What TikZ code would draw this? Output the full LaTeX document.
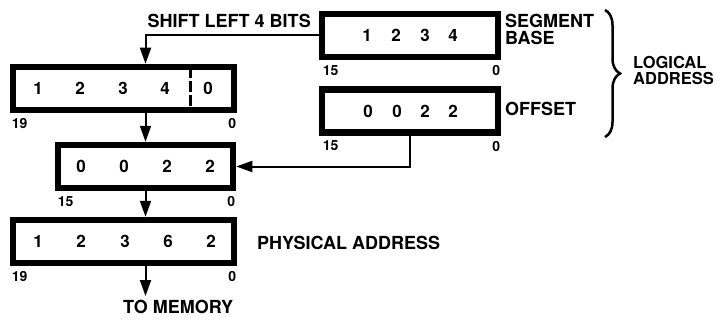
\documentclass[tikz,border=0pt]{standalone}
\usepackage{fontspec}
\setmainfont{TeX Gyre Heros}
\usetikzlibrary{arrows.meta,decorations.pathreplacing}
\tikzset{
  regbox/.style={draw, line width=6.5pt, inner sep=0pt, minimum height=43pt},
  digit/.style={font=\fontsize{17}{17}\selectfont\bfseries, inner sep=0pt},
  bitno/.style={font=\fontsize{14}{14}\selectfont\bfseries, inner sep=0pt},
  label/.style={font=\fontsize{18}{17}\selectfont\bfseries, align=left, inner sep=0pt},
  link/.style={line width=2pt, ->},
}
\begin{document}
\begin{tikzpicture}[x=1pt,y=-1pt,line join=miter,>={Triangle[length=16pt,width=11pt]}]
	\useasboundingbox (0,0) rectangle (726,321);
	%registres
	\node[regbox, minimum width=176pt] (segbox) at (410,35.5) {};
	\node[regbox, minimum width=176pt] (offbox) at (410,111) {};
	\node[regbox, minimum width=221pt] (shiftbox) at (123.5,88.5) {};
	\node[regbox, minimum width=175pt] (sumbox) at (145.5,166.5) {};
	\node[regbox, minimum width=221pt] (physbox) at (123.5,241.5) {};
	%chiffres
	\foreach \d/\x [count=\i] in {1/367,2/396,3/425,4/453}
		\node[digit] (seg\i) at (\x,35.5) {\d};
	\foreach \d/\x [count=\i] in {0/368,0/397,2/425,2/453}
		\node[digit] (off\i) at (\x,111) {\d};
	\foreach \d/\x [count=\i] in {1/38,2/80,3/123,4/165,0/208}
		\node[digit] (shift\i) at (\x,88.5) {\d};
	\foreach \d/\x [count=\i] in {0/81,0/124,2/167,2/210}
		\node[digit] (sum\i) at (\x,166.5) {\d};
	\foreach \d/\x [count=\i] in {1/38,2/81,3/125,6/168,2/211}
		\node[digit] (phys\i) at (\x,241.5) {\d};
	\draw[line width=3pt, dash pattern=on 11pt off 3pt] (190,67) -- (190,110);
	%numeros de bits
	\node[bitno, anchor=north west] (seghi) at ([xshift=4pt,yshift=-5pt]segbox.south west) {15};
	\node[bitno, anchor=north east] (seglo) at ([xshift=-1pt,yshift=-5pt]segbox.south east) {0};
	\node[bitno, anchor=north west] (offhi) at ([xshift=4pt,yshift=-5pt]offbox.south west) {15};
	\node[bitno, anchor=north east] (offlo) at ([xshift=-1pt,yshift=-5pt]offbox.south east) {0};
	\node[bitno, anchor=north west] (shifthi) at ([xshift=2pt,yshift=-5pt]shiftbox.south west) {19};
	\node[bitno, anchor=north east] (shiftlo) at ([xshift=-1pt,yshift=-5pt]shiftbox.south east) {0};
	\node[bitno, anchor=north west] (sumhi) at ([xshift=3pt,yshift=-5pt]sumbox.south west) {15};
	\node[bitno, anchor=north east] (sumlo) at ([xshift=-1pt,yshift=-5pt]sumbox.south east) {0};
	\node[bitno, anchor=north west] (physhi) at ([xshift=2pt,yshift=-5pt]physbox.south west) {19};
	\node[bitno, anchor=north east] (physlo) at ([xshift=-1pt,yshift=-5pt]physbox.south east) {0};
	%textes
	\node[label, anchor=east] (shifttxt) at (311,21) {SHIFT LEFT 4 BITS};
	\node[label, anchor=north west] (segtxt) at (505,14) {SEGMENT\\BASE};
	\node[label, anchor=west] (offtxt) at (505,109) {OFFSET};
	\node[label, anchor=west, font=\fontsize{16.5}{16}\selectfont\bfseries] (logtxt) at (633,70) {LOGICAL\\ADDRESS};
	\node[label, anchor=west] (phystxt) at (257,243) {PHYSICAL ADDRESS};
	\node[label, anchor=west] (memtxt) at (123,307) {TO MEMORY};
	\draw[line width=2.5pt, decorate, decoration={brace, amplitude=15pt}] (605,10) -- (605,137);
	%fleches
	\draw[link] (segbox.west) -| (sumbox.north |- shiftbox.north);
	\draw[link] (shiftbox.south -| sumbox.north) -- (sumbox.north);
	\draw[link] (offbox.south) |- (sumbox.east);
	\draw[link] (sumbox.south) -- (sumbox.south |- physbox.north);
	\draw[link] (physbox.south -| sumbox.south) -- ([yshift=4pt]memtxt.north -| sumbox.south);
\end{tikzpicture}
\end{document}
